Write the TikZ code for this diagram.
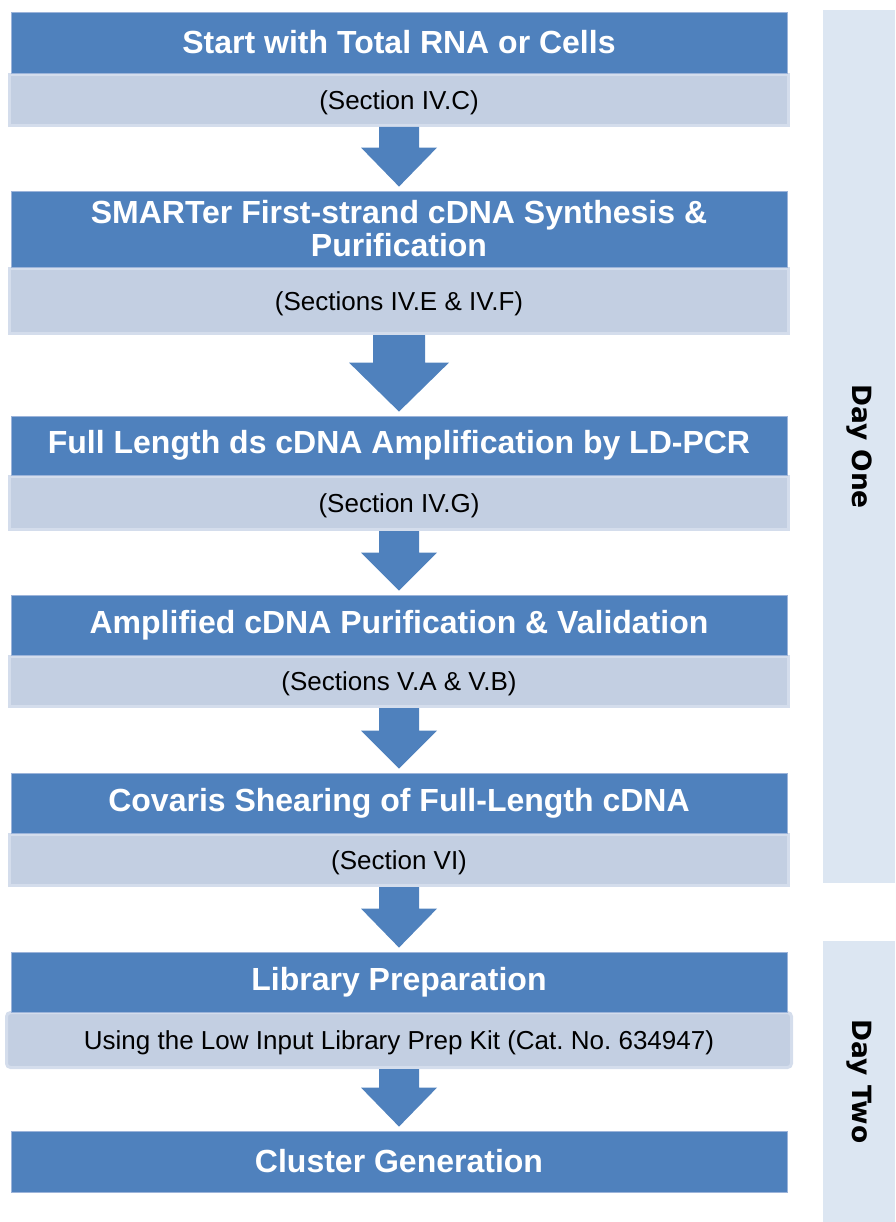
\documentclass[tikz,border=0pt]{standalone}
\usepackage{fontspec}
\setmainfont{Liberation Sans}
\newfontfamily\dayfont{DejaVu Sans}
\usetikzlibrary{calc}
\definecolor{stepblue}{HTML}{4F81BD}
\definecolor{stepedge}{HTML}{9CB4DA}
\definecolor{secfill}{HTML}{C3CFE2}
\definecolor{secedge}{HTML}{D4DDEC}
\definecolor{dayfill}{HTML}{DCE6F2}
\frenchspacing
\begin{document}
\begin{tikzpicture}[x=1pt,y=-1pt,
    stepbox/.style={fill=stepblue,draw=stepedge,line width=0.8pt,text=white,
        minimum width=776pt,inner sep=0pt,align=center,
        font=\fontsize{32}{33}\selectfont\bfseries},
    secbox/.style={fill=secfill,draw=secedge,line width=3pt,
        minimum width=779pt,inner sep=0pt,text depth=0pt,
        font=\fontsize{26}{30}\selectfont},
    daybox/.style={fill=dayfill,minimum height=72pt,inner sep=0pt,rotate=-90,
        font=\dayfont\fontsize{26.5}{30}\selectfont\bfseries}]
    \useasboundingbox (0,0) rectangle (895,1222);
    % day panels
    \node[daybox,minimum width=873pt] (one) at (859,446.5) {Day One};
    \node[daybox,minimum width=281pt] (two) at (859,1081.5) {Day Two};
    % sections
    \node[secbox,minimum height=51pt] (s1) at (399,100) {(Section IV.C)};
    \node[secbox,minimum height=65pt] (s2) at (399,301) {(Sections IV.E \& IV.F)};
    \node[secbox,minimum height=53pt] (s3) at (399,503) {(Section IV.G)};
    \node[secbox,minimum height=50pt] (s4) at (399,681.5) {(Sections V.A \& V.B)};
    \node[secbox,minimum height=51pt] (s5) at (399,860) {(Section VI)};
    \node[secbox,minimum height=55pt,minimum width=785pt,rounded corners=4pt] (s6) at (399,1040)
        {Using the Low Input Library Prep Kit (Cat. No. 634947)};
    % steps
    \node[stepbox,minimum height=61pt] (t1) at (399,42.5) {Start with Total RNA or Cells};
    \node[stepbox,minimum height=76pt] (t2) at (399,229) {SMARTer First-strand cDNA Synthesis \&\\Purification};
    \node[stepbox,minimum height=59pt] (t3) at (399,445.5) {Full Length ds cDNA Amplification by LD-PCR};
    \node[stepbox,minimum height=60pt] (t4) at (399,625) {Amplified cDNA Purification \& Validation};
    \node[stepbox,minimum height=60pt] (t5) at (399,803) {Covaris Shearing of Full-Length cDNA};
    \node[stepbox,minimum height=60pt] (t6) at (399,982) {Library Preparation};
    \node[stepbox,minimum height=61pt] (t7) at (399,1161.5) {Cluster Generation};
    % block arrows: from/to/half shaft/half head/head length
    \foreach \a/\b/\w/\h/\l in {s1/t2/20/38/39,s2/t3/26/50/49,s3/t4/20/38/38,
                                s4/t5/20/38/38,s5/t6/20/38/39,s6/t7/20/38/39}
        \fill[stepblue] let \p1=(\a.south), \p2=(\b.north) in
            (\x1-\w pt,\y1) -- (\x1-\w pt,\y2+4pt+\l pt) -- (\x1-\h pt,\y2+4pt+\l pt)
            -- (\x1,\y2+4pt) -- (\x1+\h pt,\y2+4pt+\l pt) -- (\x1+\w pt,\y2+4pt+\l pt)
            -- (\x1+\w pt,\y1) -- cycle;
\end{tikzpicture}
\end{document}
